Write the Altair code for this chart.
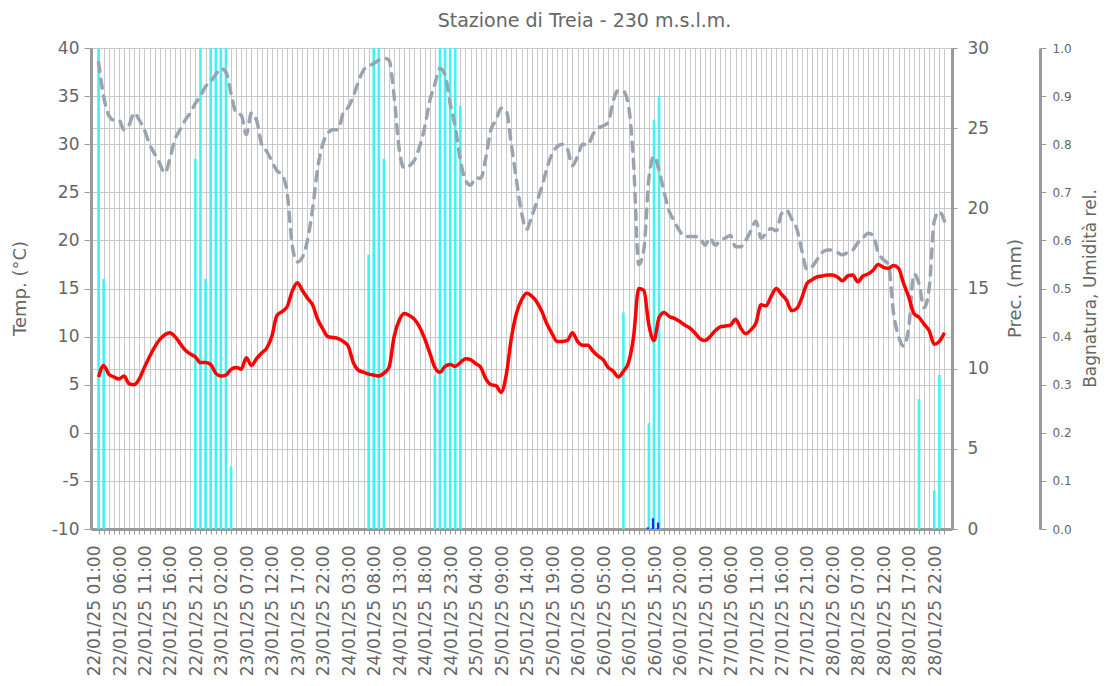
import json
from datetime import datetime, timedelta
import altair as alt
import pandas as pd

# ---------------- data ----------------
START = datetime(2025, 1, 22, 1, 0)
N_HOURS = 167
hours = list(range(N_HOURS))
tick_labels = [
    (START + timedelta(hours=h)).strftime("%d/%m/%y %H:%M") if h % 5 == 0 else ""
    for h in hours
]

temperature = [
    5.8, 7.0, 6.1, 5.8, 5.6, 5.9, 5.1, 5.0, 5.6, 6.8,
    7.9, 8.9, 9.7, 10.2, 10.4, 10.0, 9.3, 8.6, 8.2, 7.9,
    7.3, 7.3, 7.1, 6.2, 5.9, 6.0, 6.6, 6.8, 6.6, 7.8,
    7.0, 7.7, 8.3, 8.8, 10.0, 12.2, 12.6, 13.1, 14.7, 15.6,
    14.8, 14.0, 13.3, 11.8, 10.8, 10.0, 9.9, 9.8, 9.5, 9.0,
    7.3, 6.5, 6.3, 6.1, 6.0, 5.9, 6.2, 6.8, 10.0, 11.7,
    12.4, 12.2, 11.8, 11.0, 9.8, 8.3, 6.8, 6.3, 6.9, 7.1,
    6.9, 7.3, 7.7, 7.6, 7.2, 6.8, 5.6, 5.0, 4.9, 4.2,
    6.0, 9.8, 12.4, 13.8, 14.5, 14.2, 13.6, 12.6, 11.3, 10.3,
    9.5, 9.5, 9.6, 10.4, 9.5, 9.1, 9.1, 8.5, 8.0, 7.6,
    6.8, 6.4, 5.8, 6.4, 7.3, 10.0, 15.0, 14.8, 11.2, 9.6,
    12.0, 12.5, 12.1, 11.9, 11.6, 11.2, 10.9, 10.4, 9.8, 9.6,
    10.0, 10.6, 11.0, 11.1, 11.2, 11.8, 10.9, 10.3, 10.7, 11.4,
    13.3, 13.2, 14.2, 15.0, 14.4, 13.8, 12.7, 12.9, 14.0, 15.5,
    15.9, 16.2, 16.3, 16.4, 16.4, 16.2, 15.8, 16.3, 16.4, 15.7,
    16.3, 16.5, 16.9, 17.5, 17.2, 17.1, 17.4, 17.1, 15.5, 14.1,
    12.4, 12.0, 11.3, 10.6, 9.2, 9.5, 10.4,
]

humidity = [
    0.97, 0.90, 0.86, 0.85, 0.85, 0.83, 0.84, 0.865, 0.85, 0.83,
    0.80, 0.78, 0.76, 0.74, 0.77, 0.81, 0.83, 0.85, 0.865, 0.885,
    0.90, 0.92, 0.93, 0.945, 0.958, 0.95, 0.905, 0.865, 0.86, 0.82,
    0.865, 0.85, 0.80, 0.785, 0.765, 0.745, 0.736, 0.70, 0.59, 0.555,
    0.565, 0.60, 0.665, 0.75, 0.80, 0.823, 0.83, 0.83, 0.865, 0.877,
    0.90, 0.93, 0.954, 0.962, 0.968, 0.975, 0.979, 0.975, 0.90, 0.79,
    0.75, 0.755, 0.767, 0.795, 0.835, 0.89, 0.925, 0.958, 0.944, 0.885,
    0.836, 0.767, 0.725, 0.715, 0.73, 0.729, 0.772, 0.83, 0.85, 0.875,
    0.87, 0.80, 0.726, 0.658, 0.623, 0.65, 0.68, 0.712, 0.75, 0.78,
    0.795, 0.80, 0.79, 0.755, 0.775, 0.80, 0.798, 0.82, 0.833, 0.838,
    0.845, 0.89, 0.912, 0.91, 0.88, 0.76, 0.55, 0.58, 0.73, 0.775,
    0.745, 0.70, 0.66, 0.64, 0.62, 0.608, 0.608, 0.608, 0.606, 0.59,
    0.605, 0.59, 0.60, 0.605, 0.61, 0.587, 0.587, 0.60, 0.62, 0.64,
    0.605, 0.615, 0.625, 0.62, 0.655, 0.663, 0.645, 0.625, 0.58, 0.54,
    0.545, 0.56, 0.575, 0.58, 0.58, 0.575, 0.57, 0.575, 0.58, 0.595,
    0.605, 0.615, 0.61, 0.575, 0.56, 0.55, 0.45, 0.40, 0.38, 0.42,
    0.53, 0.51, 0.46, 0.50, 0.64, 0.66, 0.64,
]

wet_hours = [0, 1, 19, 20, 21, 22, 23, 24, 25, 26,
             53, 54, 55, 56, 66, 67, 68, 69, 70, 71,
             103, 108, 109, 110, 161, 164, 165]
wet_values = [1.0, 0.52, 0.77, 1.0, 0.52, 1.0, 1.0, 1.0, 1.0, 0.13,
              0.57, 1.0, 1.0, 0.77, 0.32, 1.0, 1.0, 1.0, 1.0, 0.88,
              0.45, 0.22, 0.85, 0.90, 0.27, 0.08, 0.32]

rain_hours = [108, 109, 110]
rain_mm = [0.10, 0.67, 0.40]

temp_ticks = list(range(-10, 45, 5))
prec_ticks = list(range(0, 35, 5))
rel_ticks = [round(v * 0.1, 1) for v in range(11)]

# ---------------- frames ----------------
main_df = pd.DataFrame({"h": hours, "temp": temperature, "hum": humidity})
wet_df = pd.DataFrame({"h": wet_hours, "wet": wet_values})
rain_df = pd.DataFrame({"h": rain_hours, "rain": rain_mm})

FONT = "DejaVu Sans"
GREY_TXT = "#666666"
AXIS_GREY = "#9a9a9a"
GRID = "#c9c9c9"

label_expr = json.dumps(tick_labels) + "[datum.value]"

x_enc = alt.X(
    "h:Q",
    scale=alt.Scale(domain=[-0.5, N_HOURS - 0.5], nice=False, zero=False),
    axis=alt.Axis(
        values=hours,
        labelExpr=label_expr,
        labelAngle=270,
        labelAlign="right",
        labelBaseline="middle",
        labelOffset=-4,
        labelOverlap=False,
        labelFlush=False,
        labelBound=False,
        labelPadding=11,
        labelFontSize=17,
        labelFont=FONT,
        labelColor=GREY_TXT,
        tickSize=5,
        tickColor=AXIS_GREY,
        tickWidth=1,
        grid=True,
        gridColor=GRID,
        gridWidth=1,
        domainColor=AXIS_GREY,
        domainWidth=3,
        title=None,
    ),
)

wet_layer = alt.Chart(wet_df).mark_bar(size=2.6, color="#45F2F2").encode(
    x=x_enc,
    y=alt.Y("wet:Q", scale=alt.Scale(domain=[0, 1], nice=False), axis=None),
)

rain_layer = alt.Chart(rain_df).mark_bar(size=2.4, color="#1532F5", xOffset=-1).encode(
    x=x_enc,
    y=alt.Y(
        "rain:Q",
        scale=alt.Scale(domain=[0, 30], nice=False),
        axis=alt.Axis(
            orient="right",
            values=prec_ticks,
            grid=True,
            gridColor=GRID,
            gridWidth=1,
            tickSize=5,
            tickColor=AXIS_GREY,
            domainColor=AXIS_GREY,
            domainWidth=3,
            labelFontSize=17,
            labelFont=FONT,
            labelColor=GREY_TXT,
            labelPadding=10,
            title="Prec. (mm)",
            titleFont=FONT,
            titleFontSize=18,
            titleFontWeight="normal",
            titleColor=GREY_TXT,
            titleAngle=270,
            titleX=63,
            titleY=240,
            titleAlign="center",
            titleBaseline="middle",
        ),
    ),
)

hum_layer = alt.Chart(main_df).mark_line(
    color="#9aa3b0", strokeWidth=3.5, strokeDash=[9, 8], strokeCap="round",
    interpolate="monotone",
).encode(
    x=x_enc,
    y=alt.Y(
        "hum:Q",
        scale=alt.Scale(domain=[0, 1], nice=False),
        axis=alt.Axis(
            orient="right",
            offset=88,
            values=rel_ticks,
            format=".1f",
            grid=False,
            tickSize=6,
            tickColor=AXIS_GREY,
            domainColor=AXIS_GREY,
            domainWidth=3,
            labelFontSize=12,
            labelFont=FONT,
            labelColor=GREY_TXT,
            labelPadding=6,
            title="Bagnatura, Umidità rel.",
            titleFont=FONT,
            titleFontSize=17,
            titleFontWeight="normal",
            titleColor=GREY_TXT,
            titleAngle=270,
            titleX=50,
            titleY=240,
            titleAlign="center",
            titleBaseline="middle",
        ),
    ),
)

temp_layer = alt.Chart(main_df).mark_line(
    color="#ff0000", strokeWidth=3.5, interpolate="monotone"
).encode(
    x=x_enc,
    y=alt.Y(
        "temp:Q",
        scale=alt.Scale(domain=[-10, 40], nice=False, zero=False),
        axis=alt.Axis(
            orient="left",
            values=temp_ticks,
            labelExpr="'' + datum.value",
            grid=True,
            gridColor=GRID,
            gridWidth=1,
            tickSize=7,
            tickColor=AXIS_GREY,
            domainColor=AXIS_GREY,
            domainWidth=3,
            labelFontSize=17,
            labelFont=FONT,
            labelColor=GREY_TXT,
            labelPadding=5,
            title="Temp. (°C)",
            titleFont=FONT,
            titleFontSize=18,
            titleFontWeight="normal",
            titleColor=GREY_TXT,
            titleAngle=270,
            titleX=-71,
            titleY=240,
            titleAlign="center",
            titleBaseline="middle",
        ),
    ),
)

chart = (
    alt.layer(wet_layer, rain_layer, hum_layer, temp_layer)
    .resolve_scale(y="independent")
    .resolve_axis(y="independent")
    .properties(
        width=861,
        height=481,
        padding={"left": 83, "top": 40, "right": 148, "bottom": 157},
        autosize=alt.AutoSizeParams(type="none"),
        title=alt.Title(
            "Stazione di Treia - 230 m.s.l.m.",
            font=FONT,
            fontSize=19,
            fontWeight="normal",
            color=GREY_TXT,
            anchor="middle",
            frame="group",
            dx=63,
            offset=8,
        ),
    )
    .configure_view(fill="#fdfbf0", stroke=AXIS_GREY, strokeWidth=2)
    .configure(background="white")
)

chart.save("out.html", embed_options={"renderer": "svg", "actions": False})
